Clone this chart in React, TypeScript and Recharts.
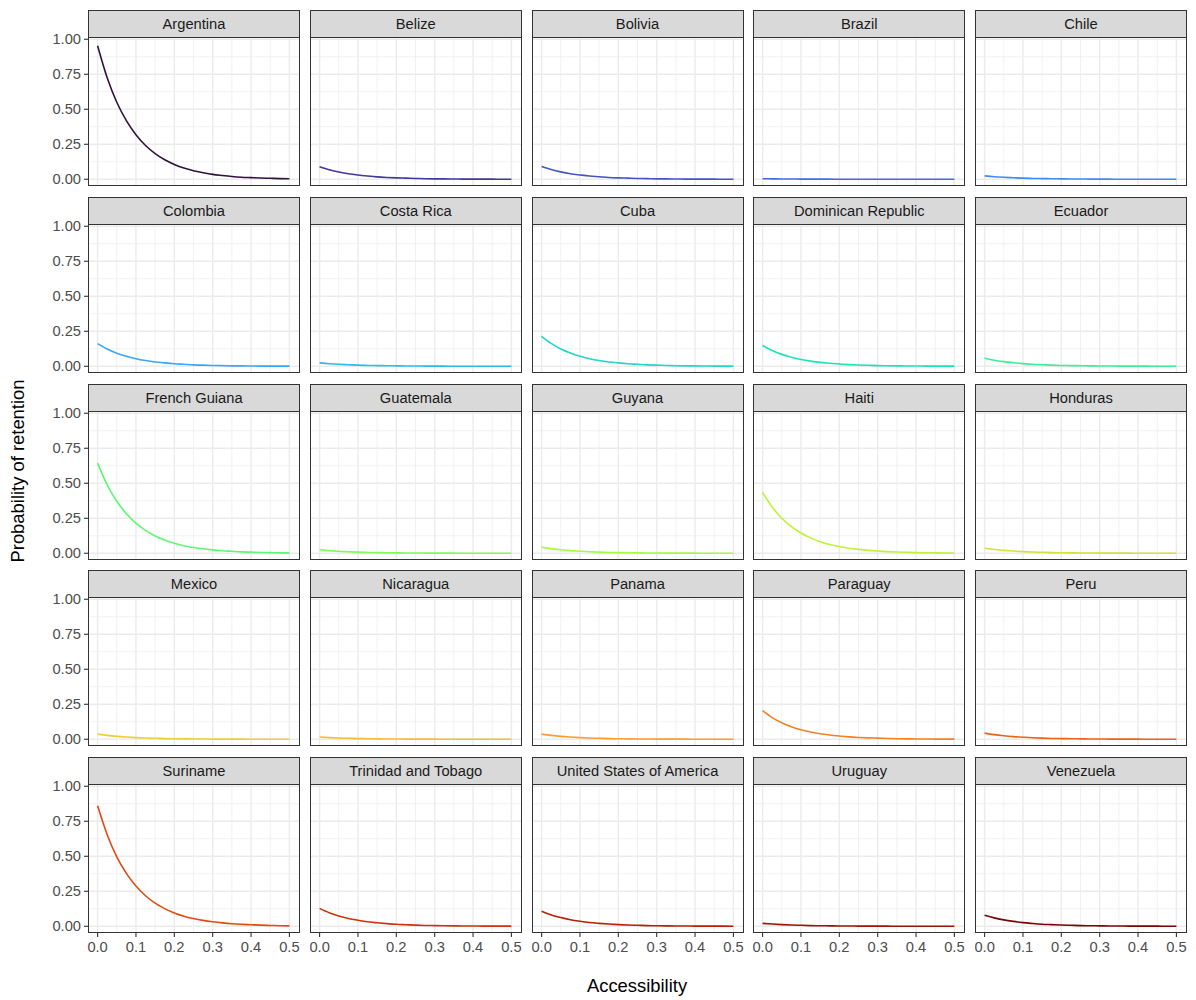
import React from 'react';
import { LineChart, Line, XAxis, YAxis, ReferenceLine } from 'recharts';

const countries = [
  'Argentina', 'Belize', 'Bolivia', 'Brazil', 'Chile',
  'Colombia', 'Costa Rica', 'Cuba', 'Dominican Republic', 'Ecuador',
  'French Guiana', 'Guatemala', 'Guyana', 'Haiti', 'Honduras',
  'Mexico', 'Nicaragua', 'Panama', 'Paraguay', 'Peru',
  'Suriname', 'Trinidad and Tobago', 'United States of America', 'Uruguay', 'Venezuela',
];

const accessibility = [
  0, 0.025, 0.05, 0.075, 0.1, 0.125, 0.15, 0.175, 0.2, 0.225, 0.25,
  0.275, 0.3, 0.325, 0.35, 0.375, 0.4, 0.425, 0.45, 0.475, 0.5,
];

const argentina = [0.954, 0.725, 0.55, 0.419, 0.318, 0.241, 0.183, 0.139, 0.106, 0.08, 0.061, 0.047, 0.035, 0.027, 0.02, 0.015, 0.012, 0.009, 0.007, 0.005, 0.004];
const belize = [0.09, 0.068, 0.052, 0.039, 0.03, 0.023, 0.017, 0.013, 0.01, 0.008, 0.006, 0.004, 0.003, 0.003, 0.002, 0.001, 0.001, 0.001, 0.001, 0.0, 0.0];
const bolivia = [0.092, 0.07, 0.053, 0.04, 0.031, 0.023, 0.018, 0.013, 0.01, 0.008, 0.006, 0.005, 0.003, 0.003, 0.002, 0.001, 0.001, 0.001, 0.001, 0.0, 0.0];
const brazil = [0.004, 0.003, 0.002, 0.002, 0.001, 0.001, 0.001, 0.001, 0.0, 0.0, 0.0, 0.0, 0.0, 0.0, 0.0, 0.0, 0.0, 0.0, 0.0, 0.0, 0.0];
const chile = [0.024, 0.018, 0.014, 0.011, 0.008, 0.006, 0.005, 0.004, 0.003, 0.002, 0.002, 0.001, 0.001, 0.001, 0.0, 0.0, 0.0, 0.0, 0.0, 0.0, 0.0];
const colombia = [0.162, 0.123, 0.093, 0.071, 0.054, 0.041, 0.031, 0.024, 0.018, 0.014, 0.01, 0.008, 0.006, 0.005, 0.003, 0.003, 0.002, 0.001, 0.001, 0.001, 0.001];
const costaRica = [0.024, 0.018, 0.014, 0.011, 0.008, 0.006, 0.005, 0.004, 0.003, 0.002, 0.002, 0.001, 0.001, 0.001, 0.0, 0.0, 0.0, 0.0, 0.0, 0.0, 0.0];
const cuba = [0.214, 0.163, 0.123, 0.094, 0.071, 0.054, 0.041, 0.031, 0.024, 0.018, 0.014, 0.01, 0.008, 0.006, 0.004, 0.003, 0.003, 0.002, 0.001, 0.001, 0.001];
const dominicanRepublic = [0.148, 0.112, 0.085, 0.065, 0.049, 0.037, 0.028, 0.022, 0.016, 0.012, 0.009, 0.007, 0.005, 0.004, 0.003, 0.002, 0.002, 0.001, 0.001, 0.001, 0.001];
const ecuador = [0.057, 0.043, 0.033, 0.025, 0.019, 0.014, 0.011, 0.008, 0.006, 0.005, 0.004, 0.003, 0.002, 0.002, 0.001, 0.001, 0.001, 0.001, 0.0, 0.0, 0.0];
const frenchGuiana = [0.644, 0.489, 0.372, 0.283, 0.215, 0.163, 0.124, 0.094, 0.071, 0.054, 0.041, 0.032, 0.024, 0.018, 0.014, 0.01, 0.008, 0.006, 0.005, 0.003, 0.003];
const guatemala = [0.025, 0.019, 0.014, 0.011, 0.008, 0.006, 0.005, 0.004, 0.003, 0.002, 0.002, 0.001, 0.001, 0.001, 0.001, 0.0, 0.0, 0.0, 0.0, 0.0, 0.0];
const guyana = [0.044, 0.033, 0.025, 0.019, 0.015, 0.011, 0.008, 0.006, 0.005, 0.004, 0.003, 0.002, 0.002, 0.001, 0.001, 0.001, 0.001, 0.0, 0.0, 0.0, 0.0];
const haiti = [0.434, 0.33, 0.25, 0.191, 0.145, 0.11, 0.083, 0.063, 0.048, 0.036, 0.028, 0.021, 0.016, 0.012, 0.009, 0.007, 0.005, 0.004, 0.003, 0.002, 0.002];
const honduras = [0.036, 0.027, 0.021, 0.016, 0.012, 0.009, 0.007, 0.005, 0.004, 0.003, 0.002, 0.002, 0.001, 0.001, 0.001, 0.001, 0.0, 0.0, 0.0, 0.0, 0.0];
const mexico = [0.037, 0.028, 0.021, 0.016, 0.012, 0.009, 0.007, 0.005, 0.004, 0.003, 0.002, 0.002, 0.001, 0.001, 0.001, 0.001, 0.0, 0.0, 0.0, 0.0, 0.0];
const nicaragua = [0.016, 0.012, 0.009, 0.007, 0.005, 0.004, 0.003, 0.002, 0.002, 0.001, 0.001, 0.001, 0.001, 0.0, 0.0, 0.0, 0.0, 0.0, 0.0, 0.0, 0.0];
const panama = [0.037, 0.028, 0.021, 0.016, 0.012, 0.009, 0.007, 0.005, 0.004, 0.003, 0.002, 0.002, 0.001, 0.001, 0.001, 0.001, 0.0, 0.0, 0.0, 0.0, 0.0];
const paraguay = [0.204, 0.155, 0.118, 0.09, 0.068, 0.052, 0.039, 0.03, 0.023, 0.017, 0.013, 0.01, 0.008, 0.006, 0.004, 0.003, 0.002, 0.002, 0.001, 0.001, 0.001];
const peru = [0.044, 0.033, 0.025, 0.019, 0.015, 0.011, 0.008, 0.006, 0.005, 0.004, 0.003, 0.002, 0.002, 0.001, 0.001, 0.001, 0.001, 0.0, 0.0, 0.0, 0.0];
const suriname = [0.86, 0.654, 0.496, 0.378, 0.287, 0.218, 0.165, 0.126, 0.095, 0.072, 0.055, 0.042, 0.032, 0.024, 0.018, 0.014, 0.011, 0.008, 0.006, 0.004, 0.003];
const trinidadAndTobago = [0.128, 0.097, 0.074, 0.056, 0.043, 0.032, 0.025, 0.019, 0.014, 0.011, 0.008, 0.006, 0.005, 0.004, 0.003, 0.002, 0.002, 0.001, 0.001, 0.001, 0.001];
const unitedStates = [0.107, 0.081, 0.062, 0.047, 0.036, 0.027, 0.021, 0.016, 0.012, 0.009, 0.007, 0.005, 0.004, 0.003, 0.002, 0.002, 0.001, 0.001, 0.001, 0.001, 0.0];
const uruguay = [0.021, 0.016, 0.012, 0.009, 0.007, 0.005, 0.004, 0.003, 0.002, 0.002, 0.001, 0.001, 0.001, 0.001, 0.0, 0.0, 0.0, 0.0, 0.0, 0.0, 0.0];
const venezuela = [0.079, 0.06, 0.046, 0.035, 0.026, 0.02, 0.015, 0.012, 0.009, 0.007, 0.005, 0.004, 0.003, 0.002, 0.002, 0.001, 0.001, 0.001, 0.001, 0.0, 0.0];

const seriesValues = [
  argentina, belize, bolivia, brazil, chile,
  colombia, costaRica, cuba, dominicanRepublic, ecuador,
  frenchGuiana, guatemala, guyana, haiti, honduras,
  mexico, nicaragua, panama, paraguay, peru,
  suriname, trinidadAndTobago, unitedStates, uruguay, venezuela,
];

const colors = [
  '#30123B', '#40389A', '#4454C7', '#466BE3', '#3F8BF5',
  '#38A5FC', '#28BDE7', '#22D4CB', '#1AE4B6', '#3BEE95',
  '#5CF874', '#80FC5A', '#A4FC3C', '#BEF137', '#D6E035',
  '#EACF38', '#FABA39', '#FC9D2E', '#F5811F', '#EE6217',
  '#E24A0E', '#D03207', '#B81F04', '#9A1503', '#7A0403',
];

const xTicks = [0, 0.1, 0.2, 0.3, 0.4, 0.5];
const xTickLabels = ['0.0', '0.1', '0.2', '0.3', '0.4', '0.5'];
const xMinor = [0.05, 0.15, 0.25, 0.35, 0.45];
const yTicks = [0, 0.25, 0.5, 0.75, 1];
const yTickLabels = ['0.00', '0.25', '0.50', '0.75', '1.00'];
const yMinor = [0.125, 0.375, 0.625, 0.875];

const X_DOMAIN: [number, number] = [-0.025, 0.525];
const Y_DOMAIN: [number, number] = [-0.048, 1.009];

const PANEL_LEFT0 = 88;
const COL_PITCH = 221.75;
const PANEL_W = 211;
const TOP0 = 10;
const ROW_PITCH = 186.75;
const STRIP_H = 28;
const PANEL_H = 148;
const Y_AXIS_W = 50;
const X_AXIS_H = 30;
const PAD = 12;
const FONT = '"Liberation Sans", Arial, Helvetica, sans-serif';

function Panel({ idx }: { idx: number }) {
  const col = idx % 5;
  const row = Math.floor(idx / 5);
  const left = PANEL_LEFT0 + col * COL_PITCH;
  const top = TOP0 + row * ROW_PITCH;
  const showY = col === 0;
  const showX = row === 4;
  const padTop = showY ? PAD : 0;
  const padRight = showX ? PAD : 0;
  const data = accessibility.map((x, i) => ({ x, y: seriesValues[idx][i] }));
  const tickStyle = { fill: '#4D4D4D', fontSize: 14.7 };
  return (
    <>
      <div
        style={{
          position: 'absolute', left, top, width: PANEL_W + 1, height: STRIP_H,
          boxSizing: 'border-box', background: '#D9D9D9', border: '1px solid #333333',
          color: '#1A1A1A', fontSize: 14.7, display: 'flex', alignItems: 'center',
          justifyContent: 'center', whiteSpace: 'nowrap',
        }}
      >
        {countries[idx]}
      </div>
      <div
        style={{
          position: 'absolute',
          left: left - (showY ? Y_AXIS_W : 0),
          top: top + STRIP_H - padTop,
        }}
      >
        <LineChart
          width={PANEL_W + (showY ? Y_AXIS_W : 0) + padRight}
          height={PANEL_H + (showX ? X_AXIS_H : 0) + padTop}
          data={data}
          margin={{ top: padTop, right: padRight, bottom: 0, left: 0 }}
        >
          <XAxis
            dataKey="x" type="number" domain={X_DOMAIN} ticks={xTicks} allowDataOverflow
            hide={!showX} height={X_AXIS_H} interval={0}
            tickFormatter={(v: number) => xTickLabels[xTicks.indexOf(v)] ?? String(v)}
            tickSize={4} tickMargin={5} axisLine={false}
            tickLine={{ stroke: '#333333', strokeWidth: 1.1 }} tick={tickStyle}
          />
          <YAxis
            type="number" domain={Y_DOMAIN} ticks={yTicks} allowDataOverflow
            hide={!showY} width={Y_AXIS_W} interval={0}
            tickFormatter={(v: number) => yTickLabels[yTicks.indexOf(v)] ?? String(v)}
            tickSize={4} tickMargin={3} axisLine={false}
            tickLine={{ stroke: '#333333', strokeWidth: 1.1 }} tick={tickStyle}
          />
          {xMinor.map((v) => (
            <ReferenceLine key={'xm' + v} x={v} stroke="#EBEBEB" strokeWidth={0.7} />
          ))}
          {yMinor.map((v) => (
            <ReferenceLine key={'ym' + v} y={v} stroke="#EBEBEB" strokeWidth={0.7} />
          ))}
          {xTicks.map((v) => (
            <ReferenceLine key={'xM' + v} x={v} stroke="#EBEBEB" strokeWidth={1.4} />
          ))}
          {yTicks.map((v) => (
            <ReferenceLine key={'yM' + v} y={v} stroke="#EBEBEB" strokeWidth={1.4} />
          ))}
          <Line
            dataKey="y" type="monotone" stroke={colors[idx]} strokeWidth={1.6}
            dot={false} activeDot={false} isAnimationActive={false}
          />
        </LineChart>
      </div>
      <div
        style={{
          position: 'absolute', left, top: top + STRIP_H - 1, width: PANEL_W + 1, height: PANEL_H + 1,
          boxSizing: 'border-box', border: '1px solid #333333', pointerEvents: 'none',
        }}
      />
    </>
  );
}

export default function App() {
  return (
    <div
      style={{
        position: 'absolute', left: 0, top: 0, width: 1196, height: 1000,
        background: '#FFFFFF', fontFamily: FONT, overflow: 'hidden',
      }}
    >
      {countries.map((c, i) => (
        <Panel key={c} idx={i} />
      ))}
      <div
        style={{
          position: 'absolute', left: 437, width: 400, top: 975, textAlign: 'center',
          fontSize: 18.4, color: '#000000',
        }}
      >
        Accessibility
      </div>
      <div
        style={{
          position: 'absolute', left: 18 - 150, top: 471 - 11, width: 300, height: 22,
          textAlign: 'center', fontSize: 18.4, color: '#000000', lineHeight: '22px',
          transform: 'rotate(-90deg)', whiteSpace: 'nowrap',
        }}
      >
        Probability of retention
      </div>
    </div>
  );
}
